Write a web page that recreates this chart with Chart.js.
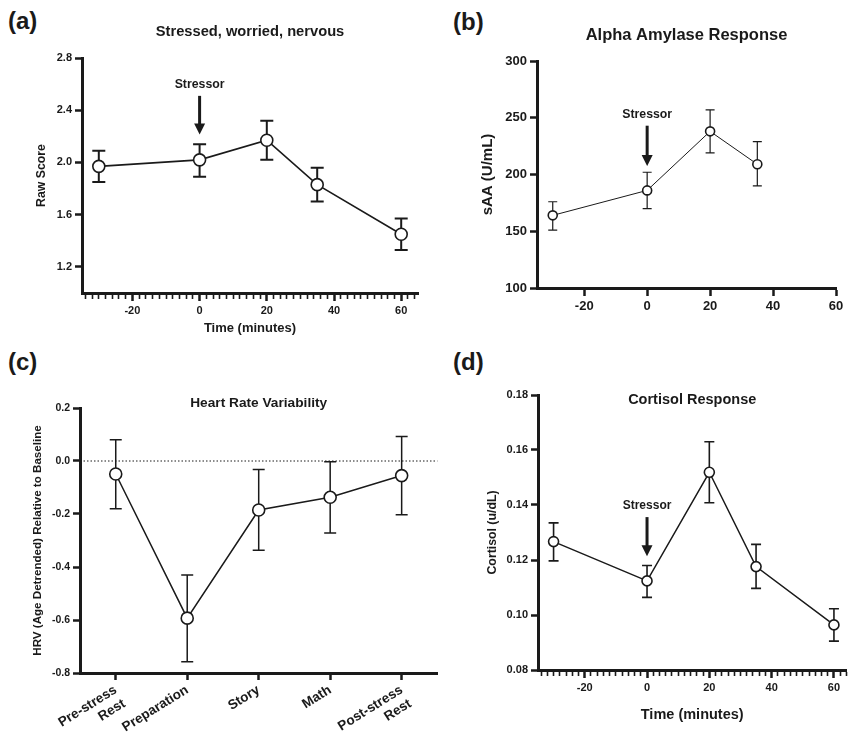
<!DOCTYPE html>
<html>
<head>
<meta charset="utf-8">
<script src="https://cdn.jsdelivr.net/npm/chart.js@4.4.0/dist/chart.umd.min.js"></script>
<style>
  body { margin: 0; background: #fff; width: 853px; height: 740px; position: relative; overflow: hidden; font-family: "Liberation Sans", Arial, sans-serif; }
  .panel { position: absolute; }
  .tag { position: absolute; font-weight: bold; font-size: 24px; line-height: 24px; color: #1a1a1a; }
</style>
</head>
<body>
<div class="tag" style="left:8px;top:9px">(a)</div>
<div class="tag" style="left:453px;top:10px">(b)</div>
<div class="tag" style="left:8px;top:350px">(c)</div>
<div class="tag" style="left:453px;top:350px">(d)</div>

<div class="panel" style="left:0;top:0"><canvas id="chartA" width="430" height="345"></canvas></div>
<div class="panel" style="left:430px;top:0"><canvas id="chartB" width="423" height="345"></canvas></div>
<div class="panel" style="left:0;top:345px"><canvas id="chartC" width="445" height="395"></canvas></div>
<div class="panel" style="left:445px;top:345px"><canvas id="chartD" width="408" height="395"></canvas></div>

<script>
const ink = '#1a1a1a';
const fam = '"Liberation Sans", Arial, sans-serif';

// (a) Stressed, worried, nervous
const timeA = [-30, 0, 20, 35, 60];
const scoreMean = [1.97, 2.02, 2.17, 1.83, 1.45];
const scoreLo = [1.85, 1.89, 2.02, 1.70, 1.33];
const scoreHi = [2.09, 2.14, 2.32, 1.96, 1.57];
const scoreTicks = [1.2, 1.6, 2.0, 2.4, 2.8];

// (b) Alpha Amylase
const timeB = [-30, 0, 20, 35];
const saaMean = [164, 186, 238, 209];
const saaLo = [151, 170, 219, 190];
const saaHi = [176, 202, 257, 229];
const saaTicks = [100, 150, 200, 250, 300];

// (c) Heart Rate Variability
const hrvLabels = [['Pre-stress', 'Rest'], 'Preparation', 'Story', 'Math', ['Post-stress', 'Rest']];
const hrvMean = [-0.049, -0.593, -0.185, -0.137, -0.055];
const hrvLo = [-0.18, -0.758, -0.337, -0.272, -0.203];
const hrvHi = [0.08, -0.43, -0.032, -0.003, 0.092];
const hrvTicks = [-0.8, -0.6, -0.4, -0.2, 0.0, 0.2];

// (d) Cortisol
const timeD = [-30, 0, 20, 35, 60];
const cortMean = [0.1267, 0.1124, 0.1519, 0.1176, 0.0964];
const cortLo = [0.1197, 0.1064, 0.1408, 0.1097, 0.0905];
const cortHi = [0.1335, 0.1180, 0.1630, 0.1257, 0.1023];
const cortTicks = [0.08, 0.10, 0.12, 0.14, 0.16, 0.18];

const timeMajor = [-20, 0, 20, 40, 60];
let timeMinor = [];
for (let v = -34; v <= 64; v += 2) timeMinor.push(v);

// error bars, zero line, titles and the stressor arrow
const extras = {
  id: 'extras',
  beforeDatasetsDraw(chart, args, o) {
    const {ctx, chartArea} = chart;
    const y = chart.scales.y;
    ctx.save();
    ctx.strokeStyle = ink;
    if (o.zeroLine) {
      ctx.lineWidth = 1;
      ctx.setLineDash([1.5, 2]);
      ctx.beginPath();
      ctx.moveTo(chartArea.left, y.getPixelForValue(0));
      ctx.lineTo(chartArea.right, y.getPixelForValue(0));
      ctx.stroke();
      ctx.setLineDash([]);
    }
    ctx.lineWidth = o.errWidth;
    const pts = chart.getDatasetMeta(0).data;
    o.lo.forEach((lo, i) => {
      const px = pts[i].x;
      const y1 = y.getPixelForValue(lo), y2 = y.getPixelForValue(o.hi[i]);
      ctx.beginPath();
      ctx.moveTo(px, y1); ctx.lineTo(px, y2);
      ctx.moveTo(px - o.cap, y1); ctx.lineTo(px + o.cap, y1);
      ctx.moveTo(px - o.cap, y2); ctx.lineTo(px + o.cap, y2);
      ctx.stroke();
    });
    ctx.restore();
  },
  afterDraw(chart, args, o) {
    const {ctx, chartArea} = chart;
    ctx.save();
    ctx.fillStyle = ink;
    ctx.textAlign = 'center';
    ctx.textBaseline = 'middle';
    ctx.font = 'bold ' + o.titleSize + 'px ' + fam;
    ctx.fillText(o.title, (chartArea.left + chartArea.right) / 2, o.titleY);
    if (o.stressor) {
      const s = o.stressor;
      const px = chart.scales.x.getPixelForValue(0);
      const y = chart.scales.y;
      ctx.font = 'bold ' + s.size + 'px ' + fam;
      ctx.fillText('Stressor', px, y.getPixelForValue(s.label));
      const top = y.getPixelForValue(s.from), tip = y.getPixelForValue(s.to);
      ctx.strokeStyle = ink;
      ctx.lineWidth = 3;
      ctx.beginPath();
      ctx.moveTo(px, top); ctx.lineTo(px, tip - 8);
      ctx.stroke();
      ctx.beginPath();
      ctx.moveTo(px - 5.5, tip - 11); ctx.lineTo(px + 5.5, tip - 11); ctx.lineTo(px, tip);
      ctx.closePath();
      ctx.fill();
    }
    ctx.restore();
  }
};

function font(size) {
  return {family: fam, size: size, weight: 'bold'};
}

// (a)
new Chart(document.getElementById('chartA'), {
  type: 'line',
  data: {
    datasets: [{
      data: timeA.map((t, i) => ({x: t, y: scoreMean[i]})),
      borderColor: ink, borderWidth: 1.6,
      pointRadius: 6, pointBorderWidth: 1.6, pointBackgroundColor: '#fff', pointBorderColor: ink
    }]
  },
  options: {
    responsive: false, animation: false,
    layout: {padding: {left: 34, top: 58, right: 12, bottom: 9}},
    plugins: {
      legend: {display: false}, tooltip: {enabled: false},
      extras: {lo: scoreLo, hi: scoreHi, errWidth: 2, cap: 6.5,
        title: 'Stressed, worried, nervous', titleSize: 14.7, titleY: 32,
        stressor: {label: 2.60, from: 2.51, to: 2.215, size: 12.3}}
    },
    scales: {
      x: {
        type: 'linear', min: -35, max: 65,
        afterBuildTicks: s => { s.ticks = timeMinor.map(v => ({value: v})); },
        afterFit: s => { s.height = 43; },
        border: {width: 3, color: ink},
        grid: {drawOnChartArea: false, tickLength: 8, tickColor: ink,
          tickWidth: c => timeMajor.includes(c.tick.value) ? 2.5 : 1.6,
          tickBorderDash: c => timeMajor.includes(c.tick.value) ? [] : [4, 30]},
        ticks: {autoSkip: false, maxRotation: 0, padding: 3, color: ink, font: font(11),
          callback: v => timeMajor.includes(v) ? v : ''},
        title: {display: true, text: 'Time (minutes)', color: ink, font: font(13), padding: 0}
      },
      y: {
        min: 1.0, max: 2.8,
        afterBuildTicks: s => { s.ticks = scoreTicks.map(v => ({value: v})); },
        afterFit: s => { s.width = 48; },
        border: {width: 3, color: ink},
        grid: {drawOnChartArea: false, tickLength: 7, tickWidth: 2.5, tickColor: ink},
        ticks: {padding: 3, color: ink, font: font(11), callback: v => v.toFixed(1)},
        title: {display: true, text: 'Raw Score', color: ink, font: font(12.3), padding: 0}
      }
    }
  },
  plugins: [extras]
});

// (b)
new Chart(document.getElementById('chartB'), {
  type: 'line',
  data: {
    datasets: [{
      data: timeB.map((t, i) => ({x: t, y: saaMean[i]})),
      borderColor: ink, borderWidth: 1,
      pointRadius: 4.5, pointBorderWidth: 1.6, pointBackgroundColor: '#fff', pointBorderColor: ink
    }]
  },
  options: {
    responsive: false, animation: false,
    layout: {padding: {left: 49, top: 61, right: 17, bottom: 17}},
    plugins: {
      legend: {display: false}, tooltip: {enabled: false},
      extras: {lo: saaLo, hi: saaHi, errWidth: 1.2, cap: 4.5,
        title: 'Alpha Amylase Response', titleSize: 16.5, titleY: 35,
        stressor: {label: 253, from: 243, to: 207.5, size: 12.3}}
    },
    scales: {
      x: {
        type: 'linear', min: -35, max: 60,
        afterBuildTicks: s => { s.ticks = timeMajor.map(v => ({value: v})); },
        afterFit: s => { s.height = 40; },
        border: {width: 3, color: ink},
        grid: {drawOnChartArea: false, tickLength: 8, tickWidth: 2.5, tickColor: ink},
        ticks: {autoSkip: false, maxRotation: 0, padding: 3, color: ink, font: font(13)}
      },
      y: {
        min: 100, max: 300,
        afterBuildTicks: s => { s.ticks = saaTicks.map(v => ({value: v})); },
        afterFit: s => { s.width = 58; },
        border: {width: 3, color: ink},
        grid: {drawOnChartArea: false, tickLength: 7, tickWidth: 2.5, tickColor: ink},
        ticks: {padding: 3, color: ink, font: font(13)},
        title: {display: true, text: 'sAA (U/mL)', color: ink, font: font(15), padding: 0}
      }
    }
  },
  plugins: [extras]
});

// (c)
new Chart(document.getElementById('chartC'), {
  type: 'line',
  data: {
    labels: hrvLabels,
    datasets: [{
      data: hrvMean,
      borderColor: ink, borderWidth: 1.5,
      pointRadius: 6, pointBorderWidth: 1.6, pointBackgroundColor: '#fff', pointBorderColor: ink
    }]
  },
  options: {
    responsive: false, animation: false,
    layout: {padding: {left: 31, top: 63, right: 5, bottom: 3}},
    plugins: {
      legend: {display: false}, tooltip: {enabled: false},
      extras: {lo: hrvLo, hi: hrvHi, errWidth: 1.5, cap: 6, zeroLine: true,
        title: 'Heart Rate Variability', titleSize: 13.7, titleY: 58}
    },
    scales: {
      x: {
        type: 'category', offset: true,
        afterFit: s => { s.height = 64; },
        border: {width: 3, color: ink},
        grid: {drawOnChartArea: false, offset: false, tickLength: 7, tickWidth: 2.5, tickColor: ink},
        ticks: {autoSkip: false, minRotation: 32, maxRotation: 32, padding: 2, color: ink, font: font(13.5)}
      },
      y: {
        min: -0.8, max: 0.2,
        afterBuildTicks: s => { s.ticks = hrvTicks.map(v => ({value: v})); },
        afterFit: s => { s.width = 49; },
        border: {width: 3, color: ink},
        grid: {drawOnChartArea: false, tickLength: 7, tickWidth: 2.5, tickColor: ink},
        ticks: {padding: 3, color: ink, font: font(10.5), callback: v => v.toFixed(1)},
        title: {display: true, text: 'HRV (Age Detrended) Relative to Baseline', color: ink, font: font(11.6), padding: 0}
      }
    }
  },
  plugins: [extras]
});

// (d)
new Chart(document.getElementById('chartD'), {
  type: 'line',
  data: {
    datasets: [{
      data: timeD.map((t, i) => ({x: t, y: cortMean[i]})),
      borderColor: ink, borderWidth: 1.5,
      pointRadius: 5, pointBorderWidth: 1.6, pointBackgroundColor: '#fff', pointBorderColor: ink
    }]
  },
  options: {
    responsive: false, animation: false,
    layout: {padding: {left: 40, top: 50, right: 1, bottom: 16}},
    plugins: {
      legend: {display: false}, tooltip: {enabled: false},
      extras: {lo: cortLo, hi: cortHi, errWidth: 1.6, cap: 5,
        title: 'Cortisol Response', titleSize: 14.5, titleY: 55,
        stressor: {label: 0.1396, from: 0.1356, to: 0.1214, size: 12}}
    },
    scales: {
      x: {
        type: 'linear', min: -35, max: 64,
        afterBuildTicks: s => { s.ticks = timeMinor.map(v => ({value: v})); },
        afterFit: s => { s.height = 54; },
        border: {width: 3, color: ink},
        grid: {drawOnChartArea: false, tickLength: 8, tickColor: ink,
          tickWidth: c => timeMajor.includes(c.tick.value) ? 2.5 : 1.6,
          tickBorderDash: c => timeMajor.includes(c.tick.value) ? [] : [4, 30]},
        ticks: {autoSkip: false, maxRotation: 0, padding: 3, color: ink, font: font(11),
          callback: v => timeMajor.includes(v) ? v : ''},
        title: {display: true, text: 'Time (minutes)', color: ink, font: font(14.5), padding: 0}
      },
      y: {
        min: 0.08, max: 0.18,
        afterBuildTicks: s => { s.ticks = cortTicks.map(v => ({value: v})); },
        afterFit: s => { s.width = 53; },
        border: {width: 3, color: ink},
        grid: {drawOnChartArea: false, tickLength: 7, tickWidth: 2.5, tickColor: ink},
        ticks: {padding: 3, color: ink, font: font(11), callback: v => v.toFixed(2)},
        title: {display: true, text: 'Cortisol (u/dL)', color: ink, font: font(12.3), padding: 0}
      }
    }
  },
  plugins: [extras]
});
</script>
</body>
</html>
